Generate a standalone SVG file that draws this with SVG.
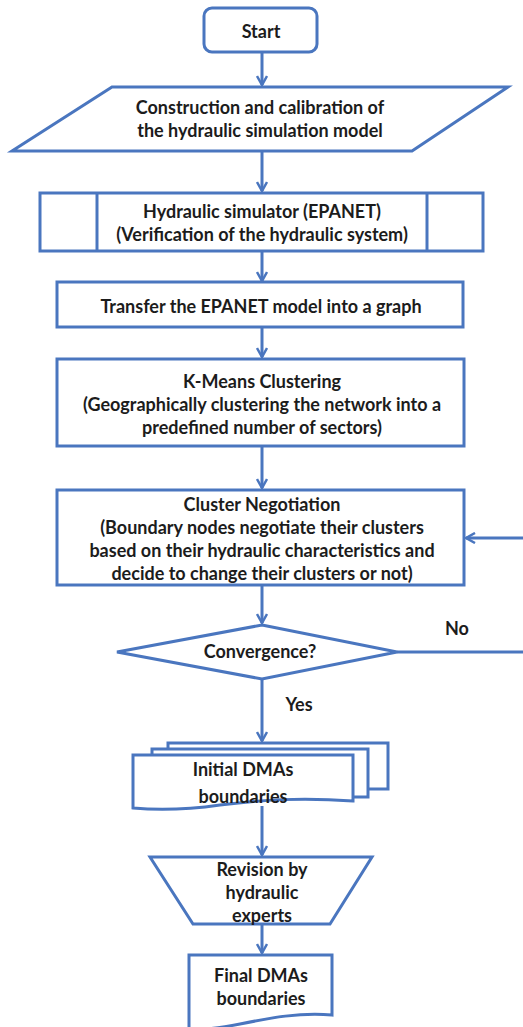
<svg xmlns="http://www.w3.org/2000/svg" width="523" height="1027" viewBox="0 0 523 1027">
<defs>
<marker id="arr" viewBox="0 0 12 12" refX="10" refY="6" markerWidth="12" markerHeight="12" markerUnits="userSpaceOnUse" orient="auto">
<path d="M1,1 L10,6 L1,11" fill="none" stroke="#4a76bf" stroke-width="2.5"/>
</marker>
<style>
.s{fill:#fff;stroke:#4a76bf;stroke-width:3}
.c{fill:none;stroke:#4a76bf;stroke-width:3}
.t{font-family:Lato,"Liberation Sans",sans-serif;font-weight:bold;font-size:18px;fill:#1c1c1c;text-anchor:middle}
</style>
</defs>
<rect width="523" height="1027" fill="#fff"/>
<g id="connectors">
<line class="c" x1="262" y1="52" x2="262" y2="85" marker-end="url(#arr)"/>
<line class="c" x1="262" y1="151" x2="262" y2="191" marker-end="url(#arr)"/>
<line class="c" x1="262" y1="251" x2="262" y2="281" marker-end="url(#arr)"/>
<line class="c" x1="262" y1="327" x2="262" y2="357" marker-end="url(#arr)"/>
<line class="c" x1="262" y1="446" x2="262" y2="488" marker-end="url(#arr)"/>
<line class="c" x1="262" y1="585" x2="262" y2="623" marker-end="url(#arr)"/>
<polyline class="c" points="397,652 527,652 527,538 466,538" marker-end="url(#arr)"/>
<line class="c" x1="262" y1="679" x2="262" y2="741" marker-end="url(#arr)"/>
<line class="c" x1="262" y1="806" x2="262" y2="855" marker-end="url(#arr)"/>
<line class="c" x1="262" y1="924" x2="262" y2="953" marker-end="url(#arr)"/>
<text class="t" x="457" y="635">No</text>
<text class="t" x="299" y="711">Yes</text>
</g>
<g id="start">
<rect class="s" x="204" y="8" width="113" height="44" rx="8"/>
<text class="t" x="261" y="38">Start</text>
</g>
<g id="construction">
<polygon class="s" points="112,87 508,87 412,151 12,151"/>
<text class="t" x="260" y="114">Construction and calibration of</text>
<text class="t" x="260" y="137">the hydraulic simulation model</text>
</g>
<g id="simulator">
<rect class="s" x="40" y="193" width="443" height="58"/>
<line class="c" x1="97" y1="193" x2="97" y2="251"/>
<line class="c" x1="427" y1="193" x2="427" y2="251"/>
<text class="t" x="262" y="218">Hydraulic simulator (EPANET)</text>
<text class="t" x="262" y="241">(Verification of the hydraulic system)</text>
</g>
<g id="transfer">
<rect class="s" x="57" y="282" width="406" height="45"/>
<text class="t" x="261" y="313">Transfer the EPANET model into a graph</text>
</g>
<g id="kmeans">
<rect class="s" x="57" y="359" width="407" height="87"/>
<text class="t" x="262" y="388">K-Means Clustering</text>
<text class="t" x="262" y="411">(Geographically clustering the network into a</text>
<text class="t" x="262" y="434">predefined number of sectors)</text>
</g>
<g id="negotiation">
<rect class="s" x="57" y="490" width="407" height="95"/>
<text class="t" x="262" y="511">Cluster Negotiation</text>
<text class="t" x="262" y="534">(Boundary nodes negotiate their clusters</text>
<text class="t" x="262" y="557">based on their hydraulic characteristics and</text>
<text class="t" x="262" y="580">decide to change their clusters or not)</text>
</g>
<g id="convergence">
<polygon class="s" points="262,625 397,652 262,679 117,652"/>
<text class="t" x="260" y="658">Convergence?</text>
</g>
<g id="initial">
<path class="s" d="M168,743 H388 V789 H168 Z"/>
<path class="s" d="M152,749 H368 V797 H152 Z"/>
<path class="s" d="M133,755 H353 V801 C300,797 260,800 220,805 C185,810 155,810 133,808 Z"/>
<text class="t" x="243" y="776">Initial DMAs</text>
<text class="t" x="243" y="803">boundaries</text>
</g>
<g id="revision">
<polygon class="s" points="150,857 372,857 330,924 193,924"/>
<text class="t" x="262" y="876">Revision by</text>
<text class="t" x="262" y="899">hydraulic</text>
<text class="t" x="262" y="922">experts</text>
</g>
<g id="final">
<path class="s" d="M189,955 H332 V1015 C300,1012 270,1018 240,1024 C215,1029 200,1030 189,1029 Z"/>
<text class="t" x="261" y="982">Final DMAs</text>
<text class="t" x="261" y="1005">boundaries</text>
</g>
</svg>
